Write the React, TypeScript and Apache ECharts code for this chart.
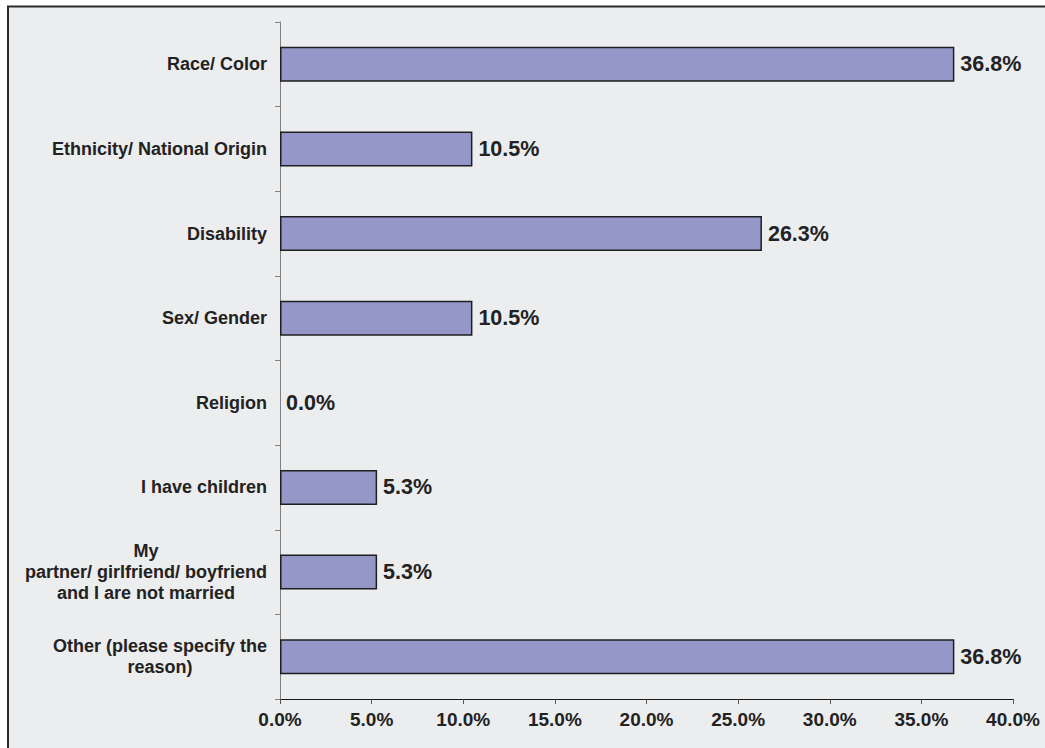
import React, { useEffect, useRef } from "react";
import * as echarts from "echarts";

const categories = [
  "Race/ Color",
  "Ethnicity/ National Origin",
  "Disability",
  "Sex/ Gender",
  "Religion",
  "I have children",
  "My\npartner/ girlfriend/ boyfriend\nand I are not married",
  "Other (please specify the\nreason)",
];
const values = [36.8, 10.5, 26.3, 10.5, 0.0, 5.3, 5.3, 36.8];
const xTicks = { min: 0, max: 40, interval: 5 };

export default function App() {
  const ref = useRef<HTMLDivElement>(null);
  useEffect(() => {
    if (!ref.current) return;
    const chart = echarts.init(ref.current, null, { renderer: "svg" });
    const font = "'Liberation Sans', Arial, sans-serif";
    chart.setOption({
      animation: false,
      backgroundColor: "#ffffff",
      graphic: [
        {
          type: "rect",
          z: -10,
          silent: true,
          shape: { x: 8, y: 6.5, width: 1100, height: 800 },
          style: { fill: "#ECEDEF", stroke: "#2a2a2a", lineWidth: 2 },
        },
      ],
      grid: { left: 280, right: 32, top: 22, bottom: 49, containLabel: false },
      xAxis: {
        type: "value",
        min: xTicks.min,
        max: xTicks.max,
        interval: xTicks.interval,
        axisLine: { show: true, lineStyle: { color: "#1a1a1a", width: 1 } },
        axisTick: { show: true, length: 5, lineStyle: { color: "#555" } },
        splitLine: { show: false },
        axisLabel: {
          margin: 11,
          fontFamily: font,
          fontWeight: "bold",
          fontSize: 19,
          color: "#222",
          formatter: (v: number) => v.toFixed(1) + "%",
        },
      },
      yAxis: {
        type: "category",
        inverse: true,
        data: categories,
        axisLine: { show: true, lineStyle: { color: "#808080", width: 1 } },
        axisTick: { show: true, length: 5, lineStyle: { color: "#808080" } },
        axisLabel: {
          margin: 13,
          fontFamily: font,
          fontWeight: "bold",
          fontSize: 18,
          color: "#222",
          lineHeight: 21,
          formatter: (v: string) =>
            v
              .split("\n")
              .map((l) => "{c|" + l + "}")
              .join("\n"),
          rich: {
            c: {
              align: "center",
              fontFamily: font,
              fontWeight: "bold",
              fontSize: 18,
              color: "#222",
              lineHeight: 21,
            },
          },
        },
      },
      series: [
        {
          type: "bar",
          data: values.map((v) =>
            v === 0 ? { value: v, itemStyle: { borderWidth: 0 } } : v
          ),
          barWidth: 35,
          itemStyle: { color: "#9597C9", borderColor: "#1f1f1f", borderWidth: 1.5 },
          label: {
            show: true,
            position: "right",
            distance: 6,
            fontFamily: font,
            fontWeight: "bold",
            fontSize: 21.5,
            color: "#222",
            formatter: (p: any) => Number(p.value).toFixed(1) + "%",
          },
        },
      ],
    });
    return () => chart.dispose();
  }, []);
  return (
    <div
      ref={ref}
      style={{ position: "fixed", left: 0, top: 0, width: 1045, height: 748 }}
    />
  );
}
